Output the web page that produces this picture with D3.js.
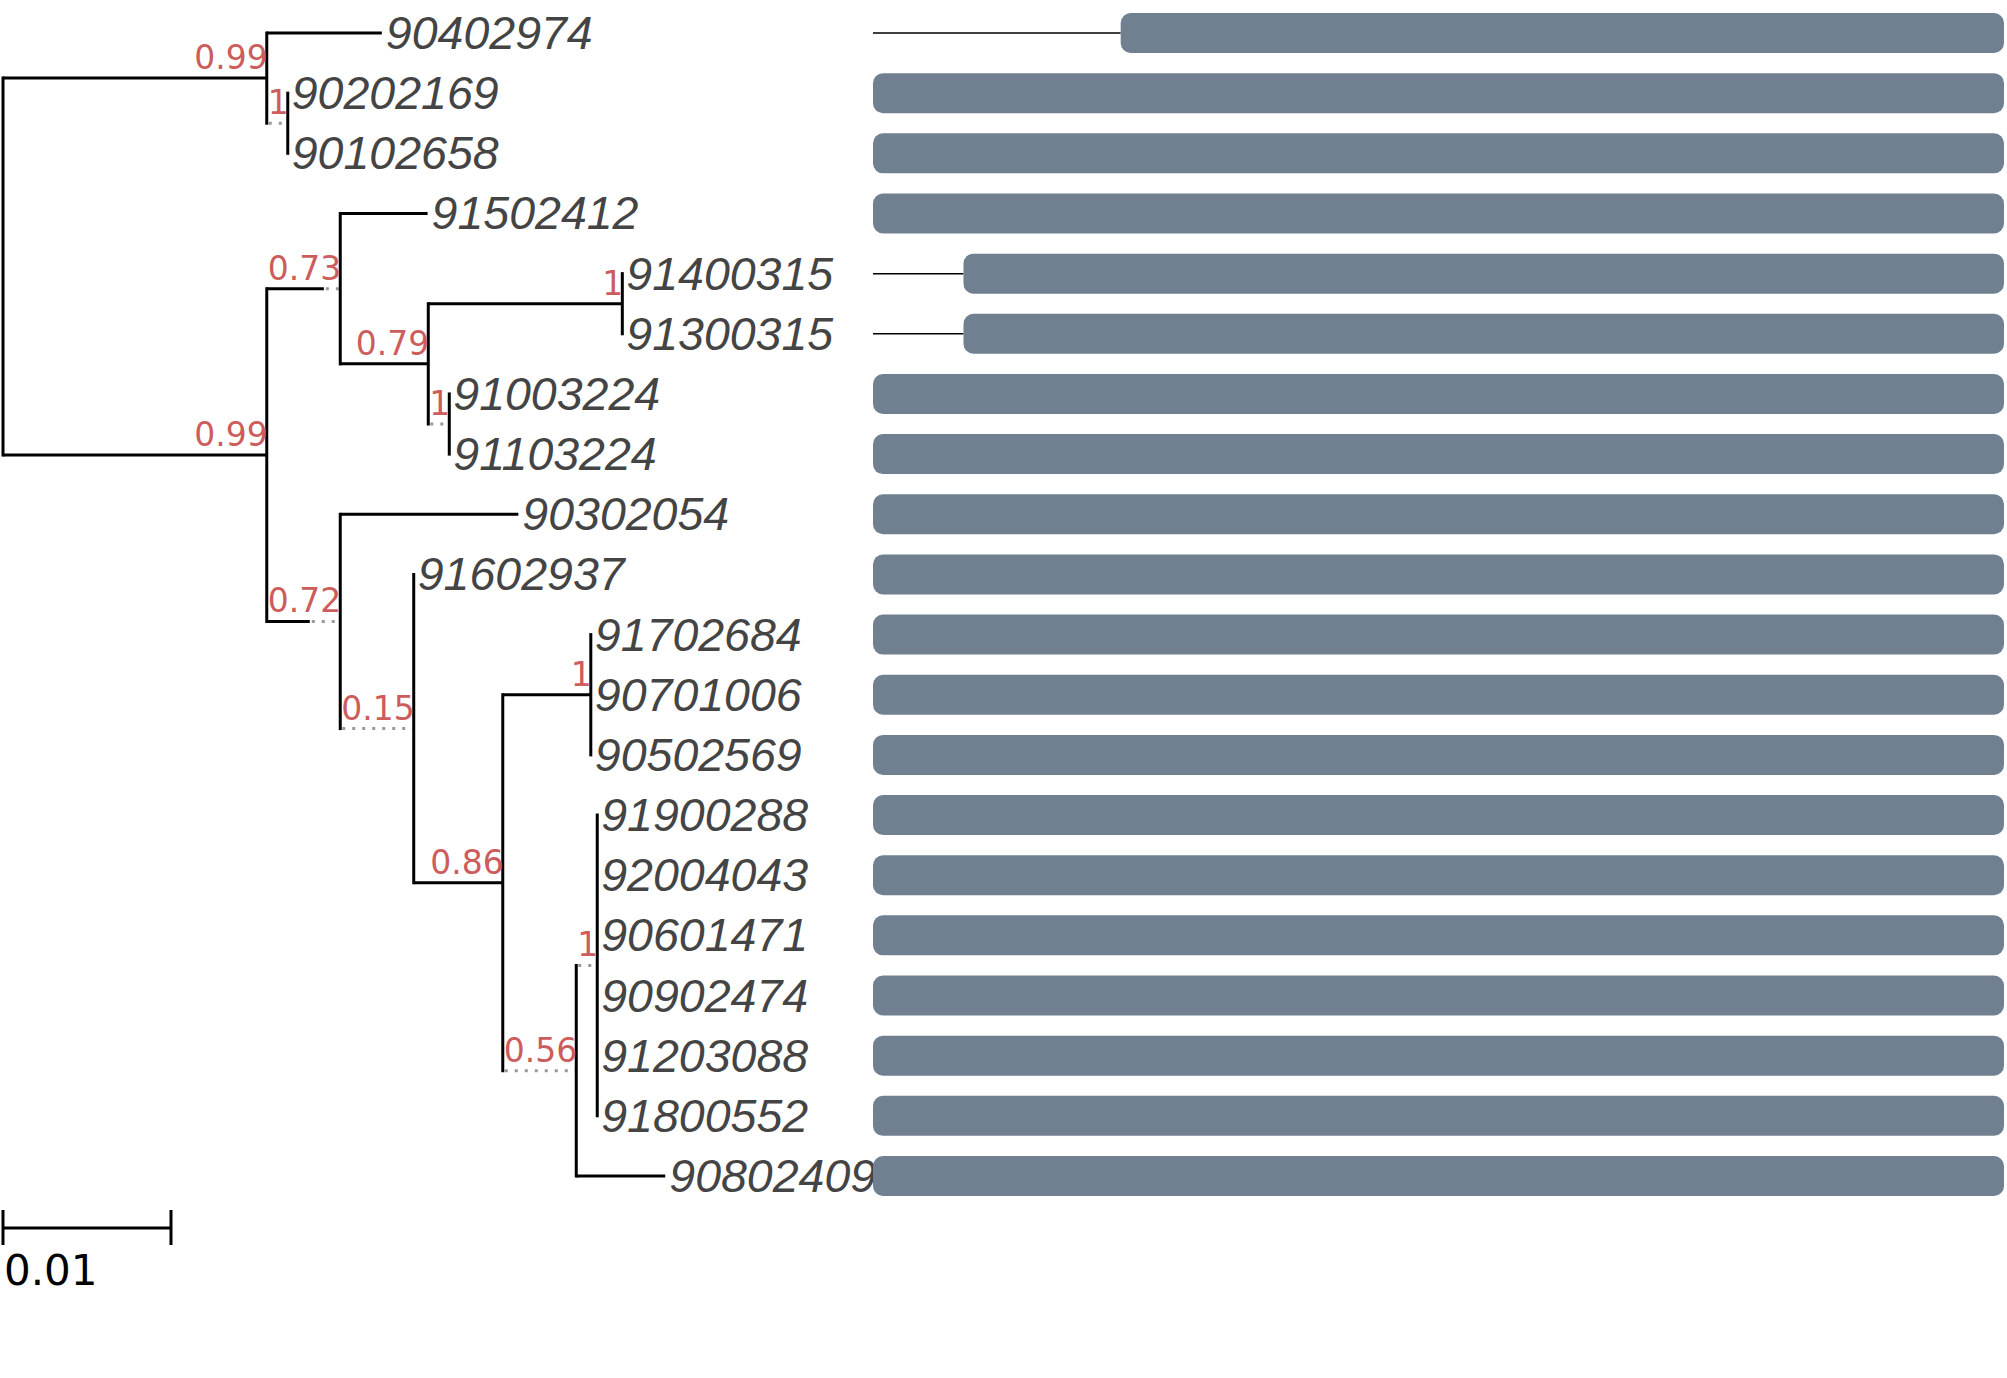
<!DOCTYPE html>
<html>
<head>
<meta charset="utf-8">
<script src="https://cdn.jsdelivr.net/npm/d3@7"></script>
<style>
  body { margin: 0; background: #fff; }
</style>
</head>
<body>
<script>
// Datos del árbol: cada nodo con su padre, longitud de rama y soporte
const nodeIds = [
  'root',
  'A', '90402974', 'A1', '90202169', '90102658',
  'B', 'B1', '91502412', 'B2', 'B3', '91400315', '91300315',
  'B4', '91003224', '91103224',
  'B5', '90302054', 'B6', '91602937', 'B7',
  'B8', '91702684', '90701006', '90502569',
  'B9', 'B10', '91900288', '92004043', '90601471', '90902474', '91203088', '91800552',
  '90802409'
];
const parentIds = [
  '',
  'root', 'A', 'A', 'A1', 'A1',
  'root', 'B', 'B1', 'B1', 'B2', 'B3', 'B3',
  'B2', 'B4', 'B4',
  'B', 'B5', 'B5', 'B6', 'B6',
  'B7', 'B8', 'B8', 'B8',
  'B7', 'B9', 'B10', 'B10', 'B10', 'B10', 'B10', 'B10',
  'B9'
];
const branchLengths = [
  0,
  0.0157, 0.00685, 0, 0, 0,
  0.0157, 0.0034, 0.0052, 0.00524, 0.01155, 0, 0,
  0, 0, 0,
  0.00256, 0.0106, 0, 0, 0.0053,
  0.00524, 0, 0, 0,
  0, 0, 0, 0, 0, 0, 0, 0,
  0.0053
];
const supports = [
  null,
  0.99, null, 1, null, null,
  0.99, 0.73, null, 0.79, 1, null, null,
  1, null, null,
  0.72, null, 0.15, null, 0.86,
  1, null, null, null,
  0.56, 1, null, null, null, null, null, null,
  null
];

// Barras alineadas (en % de la longitud), en el orden de las hojas
const barLeaves = [
  '90402974', '90202169', '90102658', '91502412', '91400315', '91300315',
  '91003224', '91103224', '90302054', '91602937', '91702684', '90701006',
  '90502569', '91900288', '92004043', '90601471', '90902474', '91203088',
  '91800552', '90802409'
];
const barStart = [21.9, 0, 0, 0, 8.0, 8.0, 0, 0, 0, 0, 0, 0, 0, 0, 0, 0, 0, 0, 0, 0];
const barEnd = [100, 100, 100, 100, 100, 100, 100, 100, 100, 100, 100, 100, 100, 100, 100, 100, 100, 100, 100, 100];

const scaleBarValue = 0.01;

// Tamaño
const [w, h] = [2007, 1378];

const svg = d3.select('body')
  .append('svg')
  .attr('width', w)
  .attr('height', h);

svg.append('rect').attr('width', w).attr('height', h).attr('fill', '#fff');

// Jerarquía
const table = nodeIds.map((id, i) => ({
  id: id, parent: parentIds[i], dist: branchLengths[i], support: supports[i]
}));
const root = d3.stratify()
  .id(d => d.id)
  .parentId(d => d.parent)(table);

const leaves = root.leaves();

// Escalas
const xTree = d3.scaleLinear().domain([0, 1]).range([3, 3 + 16800]);
const len = (d) => xTree(d) - xTree(0);

const yScale = d3.scalePoint()
  .domain(leaves.map(d => d.id))
  .range([33, 1176]);

const xBar = d3.scaleLinear().domain([0, 100]).range([873, 2004]);

// Medir el ancho del texto de soporte (como hace ete3 con las caras)
const supportFont = { family: '"DejaVu Sans", sans-serif', size: 33 };
const meter = svg.append('text')
  .attr('font-family', supportFont.family)
  .attr('font-size', supportFont.size)
  .attr('visibility', 'hidden');
const textWidth = (t) => { meter.text(t); return meter.node().getComputedTextLength(); };

// Posiciones
root.eachAfter(n => {
  if (!n.children) n.y = yScale(n.id);
  else n.y = (n.children[0].y + n.children[n.children.length - 1].y) / 2;
});
root.eachBefore(n => {
  if (!n.parent) { n.x = xTree(0); n.xLine = n.x; return; }
  const l = len(n.data.dist);
  const fw = n.data.support != null ? textWidth(String(n.data.support)) : 0;
  n.xLine = n.parent.x + l;
  n.x = n.parent.x + Math.max(l, fw);
});
meter.remove();

const gTree = svg.append('g');
const nodes = root.descendants().filter(n => n.parent);

// Ramas horizontales
gTree.selectAll('line.branch')
  .data(nodes.filter(n => n.xLine > n.parent.x))
  .enter()
  .append('line')
  .attr('class', 'branch')
  .attr('x1', d => d.parent.x)
  .attr('x2', d => d.xLine)
  .attr('y1', d => d.y)
  .attr('y2', d => d.y)
  .attr('stroke', '#000')
  .attr('stroke-width', 3);

// Extensión punteada gris
gTree.selectAll('line.extra')
  .data(nodes.filter(n => n.x - n.xLine > 1))
  .enter()
  .append('line')
  .attr('class', 'extra')
  .attr('x1', d => d.xLine + 2)
  .attr('x2', d => d.x)
  .attr('y1', d => d.y)
  .attr('y2', d => d.y)
  .attr('stroke', '#999')
  .attr('stroke-width', 3)
  .attr('stroke-dasharray', '3,7');

// Líneas verticales
gTree.selectAll('line.vert')
  .data(root.descendants().filter(n => n.children))
  .enter()
  .append('line')
  .attr('class', 'vert')
  .attr('x1', d => d.x)
  .attr('x2', d => d.x)
  .attr('y1', d => d.children[0].y)
  .attr('y2', d => d.children[d.children.length - 1].y)
  .attr('stroke', '#000')
  .attr('stroke-width', 3)
  .attr('stroke-linecap', 'square');

// Soportes
gTree.selectAll('text.support')
  .data(nodes.filter(n => n.data.support != null))
  .enter()
  .append('text')
  .attr('class', 'support')
  .attr('x', d => d.x + 1)
  .attr('y', d => d.y - 9)
  .attr('text-anchor', 'end')
  .attr('font-family', supportFont.family)
  .attr('font-size', supportFont.size)
  .attr('fill', '#cd5c5c')
  .text(d => d.data.support);

// Nombres de las hojas
gTree.selectAll('text.leaf')
  .data(leaves)
  .enter()
  .append('text')
  .attr('class', 'leaf')
  .attr('x', d => d.x + 4)
  .attr('y', d => d.y + 16)
  .attr('font-family', '"Liberation Sans", Arial, sans-serif')
  .attr('font-style', 'italic')
  .attr('font-size', 46.5)
  .attr('fill', '#444')
  .text(d => d.id);

// Barras
const gBars = svg.append('g');
const barData = barLeaves.map((id, i) => ({ id: id, start: barStart[i], end: barEnd[i] }));

gBars.selectAll('line.gap')
  .data(barData.filter(d => d.start > 0))
  .enter()
  .append('line')
  .attr('class', 'gap')
  .attr('x1', xBar(0))
  .attr('x2', d => xBar(d.start))
  .attr('y1', d => yScale(d.id))
  .attr('y2', d => yScale(d.id))
  .attr('stroke', '#000')
  .attr('stroke-width', 1.5);

gBars.selectAll('rect')
  .data(barData)
  .enter()
  .append('rect')
  .attr('x', d => xBar(d.start))
  .attr('width', d => xBar(d.end) - xBar(d.start))
  .attr('y', d => yScale(d.id) - 20)
  .attr('height', 40)
  .attr('rx', 10)
  .attr('ry', 10)
  .attr('fill', '#708090');

// Barra de escala
const sb = svg.append('g');
const sbY = 1228;
sb.append('line')
  .attr('x1', xTree(0)).attr('x2', xTree(scaleBarValue))
  .attr('y1', sbY).attr('y2', sbY)
  .attr('stroke', '#000').attr('stroke-width', 3);
[0, scaleBarValue].forEach(v => {
  sb.append('line')
    .attr('x1', xTree(v)).attr('x2', xTree(v))
    .attr('y1', sbY - 18).attr('y2', sbY + 17)
    .attr('stroke', '#000').attr('stroke-width', 3);
});
sb.append('text')
  .attr('x', xTree(0) + 1)
  .attr('y', 1285)
  .attr('font-family', '"DejaVu Sans", sans-serif')
  .attr('font-size', 42)
  .attr('fill', '#000')
  .text(scaleBarValue);
</script>
</body>
</html>
